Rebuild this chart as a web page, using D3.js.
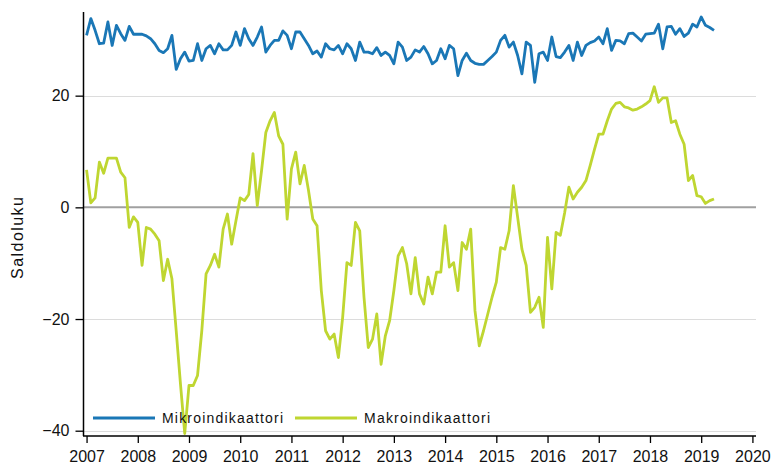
<!DOCTYPE html>
<html><head><meta charset="utf-8">
<script src="https://cdn.jsdelivr.net/npm/d3@7"></script>
<style>
html,body{margin:0;padding:0;background:#fff;}
svg{display:block;}
text{font-family:"Liberation Sans",Arial,sans-serif;fill:#111;}
</style></head>
<body>
<svg id="chart" width="774" height="470"></svg>
<script>
// Monthly data, Jan 2007 .. Apr 2019
const startYear = 2007;
const seriesNames = ["Mikroindikaattori", "Makroindikaattori"];
const mikro = [
  30.8, 33.8, 31.7, 29.3, 29.4, 33.2, 29.0, 32.6, 31.1, 29.9, 32.4, 31.0,
  31.0, 31.0, 30.7, 30.2, 29.3, 28.1, 27.7, 28.4, 30.8, 24.7, 26.6, 27.8,
  26.2, 26.3, 29.3, 26.3, 28.4, 29.0, 27.5, 29.3, 28.2, 28.2, 29.0, 31.4,
  29.0, 32.0, 30.2, 29.0, 30.5, 32.3, 27.8, 29.0, 29.9, 29.9, 31.6, 30.8,
  28.4, 31.4, 31.4, 30.2, 29.0, 27.5, 28.0, 26.9, 29.3, 28.4, 28.2, 29.0,
  27.5, 29.3, 28.4, 26.3, 29.6, 27.8, 27.8, 27.5, 28.6, 27.2, 27.8, 27.2,
  25.7, 29.6, 28.7, 26.3, 26.9, 28.2, 27.8, 28.8, 27.5, 25.7, 26.3, 28.4,
  26.6, 29.0, 28.4, 23.6, 26.3, 27.6, 26.3, 25.8, 25.6, 25.6, 26.3, 27.0,
  27.8, 29.9, 30.8, 28.7, 29.6, 27.2, 23.9, 29.6, 29.0, 22.4, 27.5, 27.8,
  26.3, 30.5, 27.0, 26.8, 27.8, 29.0, 26.3, 29.6, 27.2, 29.0, 29.5, 29.8,
  30.5, 29.3, 32.0, 28.1, 29.9, 29.8, 29.3, 31.1, 31.2, 30.5, 29.8, 31.0,
  31.1, 31.2, 32.8, 28.4, 32.3, 32.4, 31.0, 32.0, 30.6, 31.2, 32.8, 32.3,
  34.1, 32.6, 32.2, 31.7
];
const makro = [
  6.7, 0.8, 1.7, 8.1, 6.1, 8.8, 8.8, 8.8, 6.3, 5.3, -3.6, -1.7,
  -2.7, -10.4, -3.6, -3.9, -4.8, -6.0, -13.1, -9.3, -12.8, -22.1, -31.6, -40.5,
  -31.9, -31.9, -30.1, -22.1, -11.9, -10.4, -8.4, -10.7, -3.9, -1.2, -6.6, -2.4,
  1.7, 1.2, 2.3, 9.6, 0.3, 6.6, 13.4, 15.5, 17.0, 12.8, 11.3, -2.1,
  6.9, 9.9, 4.2, 7.5, 3.0, -2.1, -3.3, -14.9, -22.1, -23.6, -22.7, -26.9,
  -19.7, -9.9, -10.4, -2.7, -4.2, -16.1, -25.1, -23.6, -19.1, -28.1, -23.0, -20.3,
  -14.9, -8.7, -7.2, -10.1, -15.5, -9.0, -15.5, -17.3, -12.5, -15.5, -11.6, -11.6,
  -3.3, -10.7, -9.9, -14.9, -6.3, -7.5, -3.9, -18.5, -24.8, -22.1, -19.1, -16.1,
  -13.4, -7.2, -7.5, -4.2, 3.9, -1.8, -7.5, -10.4, -18.8, -17.9, -16.1, -21.5,
  -5.4, -14.6, -4.5, -5.0, -1.0, 3.6, 1.5, 2.7, 3.6, 4.8, 7.5, 10.4,
  13.1, 13.1, 15.5, 17.6, 18.6, 18.8, 18.0, 17.8, 17.4, 17.6, 18.0, 18.5,
  19.1, 21.6, 18.8, 19.6, 19.6, 15.2, 15.5, 13.1, 11.3, 4.8, 5.7, 2.1,
  1.9, 0.7, 1.2, 1.5
];
const xTicks = [2007, 2008, 2009, 2010, 2011, 2012, 2013, 2014, 2015, 2016, 2017, 2018, 2019, 2020];
const yTicks = [-40, -20, 0, 20];
const yLabel = "Saldoluku";
const colors = ["#1a77b6", "#bfd631"];

const svg = d3.select("#chart");
const x = d3.scaleLinear().domain([2006.95, 2020.07]).range([84, 756]);
const y = d3.scaleLinear().domain([-40.5, 35]).range([433.5, 11.9]);
const axisY = 436;

// grid lines
svg.append("g").selectAll("line").data(yTicks.filter(d => d !== 0)).join("line")
  .attr("x1", 84).attr("x2", 756)
  .attr("y1", d => Math.round(y(d)) + 0.5).attr("y2", d => Math.round(y(d)) + 0.5)
  .attr("stroke", "#dcdcdc").attr("stroke-width", 1.2);
svg.append("line")
  .attr("x1", 84).attr("x2", 756)
  .attr("y1", y(0)).attr("y2", y(0))
  .attr("stroke", "#a0a0a0").attr("stroke-width", 2);

// lines
const line = d3.line().x((d, i) => x(startYear + i / 12)).y(d => y(d));
[mikro, makro].forEach((s, k) => {
  svg.append("path").datum(s).attr("d", line)
    .attr("fill", "none").attr("stroke", colors[k]).attr("stroke-width", 2.8)
    .attr("stroke-linejoin", "round");
});

// y axis
const yAxis = d3.axisLeft(y).tickValues(yTicks).tickSize(8).tickPadding(6).tickFormat(d3.format("d"));
const gy = svg.append("g").attr("transform", "translate(83.5,0)").call(yAxis);
gy.select(".domain").attr("d", "M0,12V" + axisY).attr("stroke", "#000").attr("stroke-width", 1.5);
gy.selectAll(".tick line").attr("stroke", "#000").attr("stroke-width", 1.3);
gy.selectAll(".tick text").attr("font-size", 16).attr("font-family", "Liberation Sans, Arial, sans-serif").attr("fill", "#111");

// x axis
const xAxis = d3.axisBottom(x).tickValues(xTicks).tickSize(7).tickPadding(8).tickFormat(d3.format("d"));
const gx = svg.append("g").attr("transform", "translate(0," + axisY + ")").call(xAxis);
gx.select(".domain").attr("d", "M83,0H756").attr("stroke", "#000").attr("stroke-width", 1.5);
gx.selectAll(".tick line").attr("stroke", "#000").attr("stroke-width", 1.3);
gx.selectAll(".tick text").attr("font-size", 16).attr("font-family", "Liberation Sans, Arial, sans-serif").attr("fill", "#111");

// y label
svg.append("text").attr("transform", "translate(23,238) rotate(-90)")
  .attr("text-anchor", "middle").attr("font-size", 16)
  .attr("textLength", 82).text(yLabel);

// legend
const legX = [93, 295];
const legW = [121, 126];
seriesNames.forEach((n, k) => {
  svg.append("line").attr("x1", legX[k]).attr("x2", legX[k] + 62)
    .attr("y1", 418).attr("y2", 418)
    .attr("stroke", colors[k]).attr("stroke-width", 3);
  svg.append("text").attr("x", legX[k] + 69).attr("y", 423)
    .attr("font-size", 14).attr("textLength", legW[k]).text(n);
});
</script>
</body></html>
